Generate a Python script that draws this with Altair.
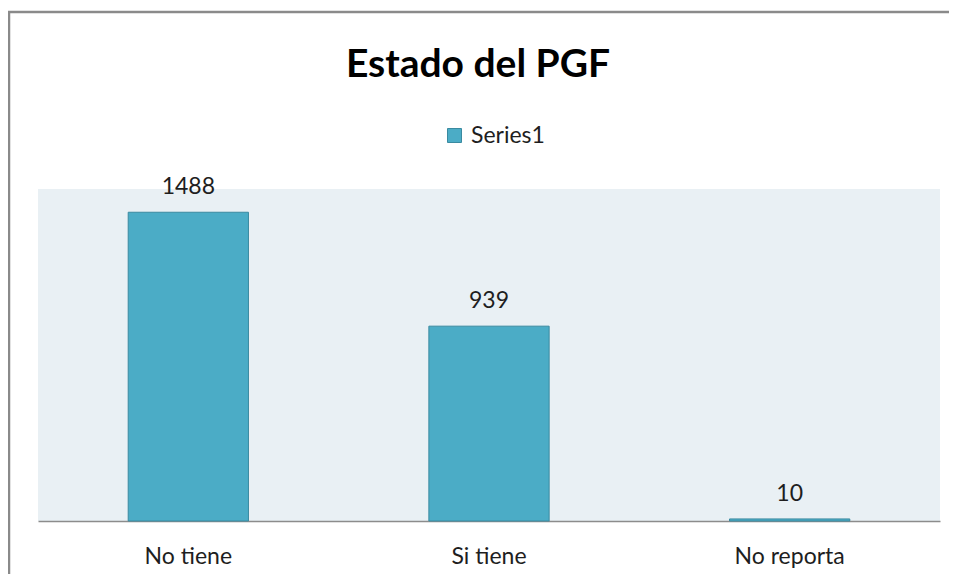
import altair as alt
import pandas as pd

categorias = ["No tiene", "Si tiene", "No reporta"]
valores = [1488, 939, 10]
serie = ["Series1", "Series1", "Series1"]

df = pd.DataFrame({"categoria": categorias, "valor": valores, "serie": serie})

FONT = "Lato"
W, H = 902, 332

base = alt.Chart(df).encode(
    x=alt.X(
        "categoria:N",
        sort=categorias,
        scale=alt.Scale(paddingInner=0.6, paddingOuter=0.3),
        axis=alt.Axis(
            title=None,
            labelAngle=0,
            labelFont=FONT,
            labelFontSize=23,
            labelColor="#1e1e1e",
            labelPadding=24,
            ticks=False,
            domainColor="#8c8c8c",
            domainWidth=1.5,
            grid=False,
        ),
    ),
    y=alt.Y("valor:Q", scale=alt.Scale(domain=[0, 1600], nice=False), axis=None),
)

bars = base.mark_bar(stroke="#3a8aa0", strokeWidth=1).encode(
    color=alt.Color(
        "serie:N",
        scale=alt.Scale(range=["#4BACC6"]),
        legend=alt.Legend(
            title=None,
            orient="none",
            legendX=405,
            legendY=-65,
            symbolType="square",
            symbolSize=196,
            symbolStrokeColor="#3a8aa0",
            symbolStrokeWidth=1,
            labelFont=FONT,
            labelFontSize=23,
            labelColor="#1e1e1e",
            labelOffset=5,
            padding=0,
        ),
    )
)

labels = base.mark_text(
    font=FONT, fontSize=23, color="#1e1e1e", baseline="alphabetic", dy=-18
).encode(text=alt.Text("valor:Q"))

border = alt.Chart(pd.DataFrame({"b": [0]})).mark_rect(
    fill=None, stroke="#8a8a8a", strokeWidth=2.5
).encode(
    x=alt.value(-29), x2=alt.value(W + 60), y=alt.value(-177), y2=alt.value(H + 120)
)

chart = (
    alt.layer(border, bars, labels)
    .properties(
        width=W,
        height=H,
        padding={"left": 30, "top": 181, "right": 9, "bottom": 53},
        autosize=alt.AutoSizeParams(type="none"),
        title=alt.Title(
            "Estado del PGF",
            font=FONT,
            fontSize=39,
            fontWeight="bold",
            color="#000000",
            anchor="middle",
            frame="group",
            baseline="alphabetic",
            dx=-11,
            offset=-105,
        ),
    )
    .configure_view(fill="#E9F0F4", stroke=None)
)

chart.save("out.html", embed_options={"renderer": "svg", "actions": False})
